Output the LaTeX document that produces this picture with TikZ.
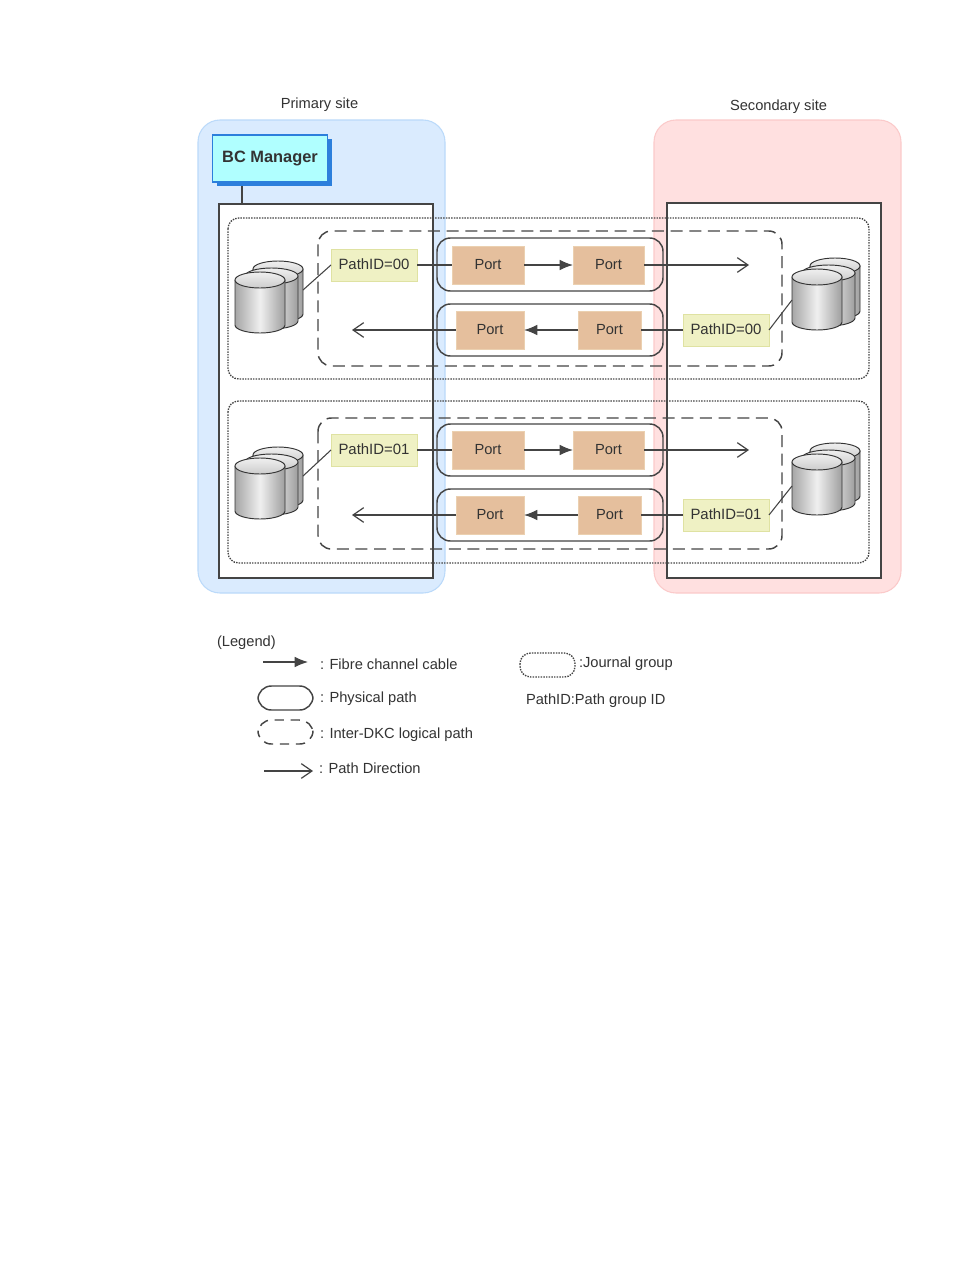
\documentclass[tikz,border=0pt]{standalone}
\usepackage{fontspec}
\setmainfont{Liberation Sans}
\usetikzlibrary{arrows.meta,shadings}
\definecolor{sitblue}{HTML}{DAEBFE}
\definecolor{sitbluee}{HTML}{BBDAFA}
\definecolor{sitpink}{HTML}{FFE0E0}
\definecolor{sitpinke}{HTML}{FBCACA}
\definecolor{txt}{HTML}{333333}
\definecolor{ln}{HTML}{444444}
\definecolor{pidfill}{HTML}{EFF1C4}
\definecolor{pidedge}{HTML}{DFE2A2}
\definecolor{portfill}{HTML}{E5BF9D}
\definecolor{portedge}{HTML}{EBD0B0}
\definecolor{bcfill}{HTML}{B0FFFF}
\definecolor{bcedge}{HTML}{2C7FDC}
\tikzset{
  x=0.75pt,y=-0.75pt,
  box/.style={draw=none,inner sep=0pt,outer sep=0pt,minimum width=#1*0.75pt,font=\fontsize{11pt}{12pt}\selectfont,text=txt},
  lbl/.style={inner sep=0pt,outer sep=0pt,font=\fontsize{11pt}{12pt}\selectfont,text=txt},
  site/.style={rounded corners=16.5pt,line width=0.8pt},
  array/.style={draw=ln,line width=1.1pt},
  journal/.style={draw=ln,line width=1pt,dash pattern=on 1.1pt off 0.9pt,rounded corners=8pt},
  logical/.style={draw=ln,line width=1.1pt,dash pattern=on 9pt off 5pt,rounded corners=10pt},
  physical/.style={draw=ln,line width=1.1pt,rounded corners=10pt},
  pathid/.style={box=86,minimum height=24pt,fill=pidfill,draw=pidedge,line width=0.6pt,font=\fontsize{11.2pt}{12pt}\selectfont},
  port/.style={box=#1,minimum height=28.5pt,fill=portfill,draw=portedge,line width=0.5pt},
  cable/.style={draw=ln,line width=1pt,-{Latex[length=10pt,width=8pt]}},
  plainlink/.style={draw=ln,line width=1pt},
  direction/.style={draw=ln,line width=1.1pt,-{Straight Barb[length=8pt,width=11pt,line width=0.9pt]}},
  diskface/.style={draw=black!80,line width=0.7pt,left color=black!35,right color=black!38,middle color=black!6},
  disktop/.style={draw=black!80,line width=0.7pt,top color=black!6,bottom color=black!20},
  pics/disks/.style={code={
    \foreach \dx/\dy/\w in {18/-11/50,10/-4/53,0/0/50}{
      \path[diskface] (\dx,\dy) -- (\dx,\dy+45) arc[start angle=180,end angle=360,x radius=\w/2*0.75pt,y radius=8*0.75pt]
        -- (\dx+\w,\dy) -- cycle;
      \path[disktop] (\dx+\w/2,\dy) ellipse[x radius=\w/2*0.75pt,y radius=8*0.75pt];
    }
  }},
}
\begin{document}
\begin{tikzpicture}
\useasboundingbox (0,0) rectangle (954,1270);
\fill[white] (0,0) rectangle (954,1270);
% sites
\path[site,fill=sitblue,draw=sitbluee] (198,120) rectangle (445,593);
\path[site,fill=sitpink,draw=sitpinke] (654,120) rectangle (901,593);
\node[lbl] (primary) at (319.5,104.5) {Primary site};
\node[lbl] (secondary) at (778.5,106.5) {Secondary site};
% arrays
\draw[array,fill=white] (219,204) rectangle (433,578);
\draw[array,fill=white] (667,203) rectangle (881,578);
% BC Manager
\fill[bcedge] (217,139) rectangle (332,186);
\node[draw=bcedge,fill=bcfill,line width=0.8pt,minimum width=86.25pt,minimum height=35.25pt,inner sep=0pt,
  font=\bfseries\fontsize{12.3pt}{13pt}\selectfont,text=black!80] (bc) at (270,158.5) {BC Manager};
\coordinate (bctap) at (242,186);
\coordinate (arrtap) at (242,204);
\draw[array] (bctap) -- (arrtap);
% journal groups and logical paths
\draw[journal] (228,218) rectangle (869,379);
\draw[journal] (228,401) rectangle (869,563);
\draw[logical] (318,231) rectangle (782,366);
\draw[logical] (318,418) rectangle (782,549);
% physical paths
\draw[physical] (437,238) rectangle (663,291);
\draw[physical] (437,304) rectangle (663,356);
\draw[physical] (437,424) rectangle (663,476);
\draw[physical] (437,489) rectangle (663,541);
% disks
\pic at (235,280) {disks};
\pic at (792,277) {disks};
\pic at (235,466) {disks};
\pic at (792,462) {disks};
\coordinate (d1) at (303,290);
\coordinate (d2) at (792,300);
\coordinate (d3) at (303,476);
\coordinate (d4) at (792,486);
% path ids
\node[pathid,text height=8pt,text depth=2pt] (p1) at (374,265) {PathID=00};
\node[pathid,text height=8pt,text depth=2pt] (p2) at (726,330) {PathID=00};
\node[pathid,text height=8pt,text depth=2pt] (p3) at (374,450) {PathID=01};
\node[pathid,text height=8pt,text depth=2pt] (p4) at (726,515) {PathID=01};
% ports
\node[port=72] (a1) at (488,265) {Port};
\node[port=71] (a2) at (608.5,265) {Port};
\node[port=68] (b1) at (490,330) {Port};
\node[port=63] (b2) at (609.5,330) {Port};
\node[port=72] (c1) at (488,450) {Port};
\node[port=71] (c2) at (608.5,450) {Port};
\node[port=68] (e1) at (490,515) {Port};
\node[port=63] (e2) at (609.5,515) {Port};
% free ends
\coordinate (r1) at (749,265);
\coordinate (l1) at (352,330);
\coordinate (r2) at (749,450);
\coordinate (l2) at (352,515);
% connectors
\draw[plainlink] (p1) -- (a1);
\draw[plainlink] (p3) -- (c1);
\draw[plainlink] (p2) -- (b2);
\draw[plainlink] (p4) -- (e2);
\draw[cable] (a1) -- (a2);
\draw[cable] (b2) -- (b1);
\draw[cable] (c1) -- (c2);
\draw[cable] (e2) -- (e1);
\draw[direction] (a2.east) -- (r1);
\draw[direction] (b1.west) -- (l1);
\draw[direction] (c2.east) -- (r2);
\draw[direction] (e1.west) -- (l2);
\draw[plainlink,line width=0.8pt] (p1.west) -- (d1);
\draw[plainlink,line width=0.8pt] (p2.east) -- (d2);
\draw[plainlink,line width=0.8pt] (p3.west) -- (d3);
\draw[plainlink,line width=0.8pt] (p4.east) -- (d4);
% legend
\node[lbl,anchor=west] (lg) at (217,643) {(Legend)};
\coordinate (la1) at (263,662); \coordinate (la2) at (308,662);
\draw[cable,line width=0.9pt] (la1) -- (la2);
\node[lbl,anchor=west] (t1) at (320,664) {: Fibre channel cable};
\draw[physical] (258,686) rectangle (313,710);
\node[lbl,anchor=west] (t2) at (320,699) {: Physical path};
\draw[logical,dash pattern=on 7pt off 5pt] (258,720) rectangle (313,744);
\node[lbl,anchor=west] (t3) at (320,735) {: Inter-DKC logical path};
\coordinate (lb1) at (264,771); \coordinate (lb2) at (313,771);
\draw[direction] (lb1) -- (lb2);
\node[lbl,anchor=west] (t4) at (319,768) {: Path Direction};
\draw[journal] (520,653) rectangle (575,677);
\node[lbl,anchor=west] (t5) at (579,664) {:Journal group};
\node[lbl,anchor=west] (t6) at (526,701) {PathID:Path group ID};
\end{tikzpicture}
\end{document}
